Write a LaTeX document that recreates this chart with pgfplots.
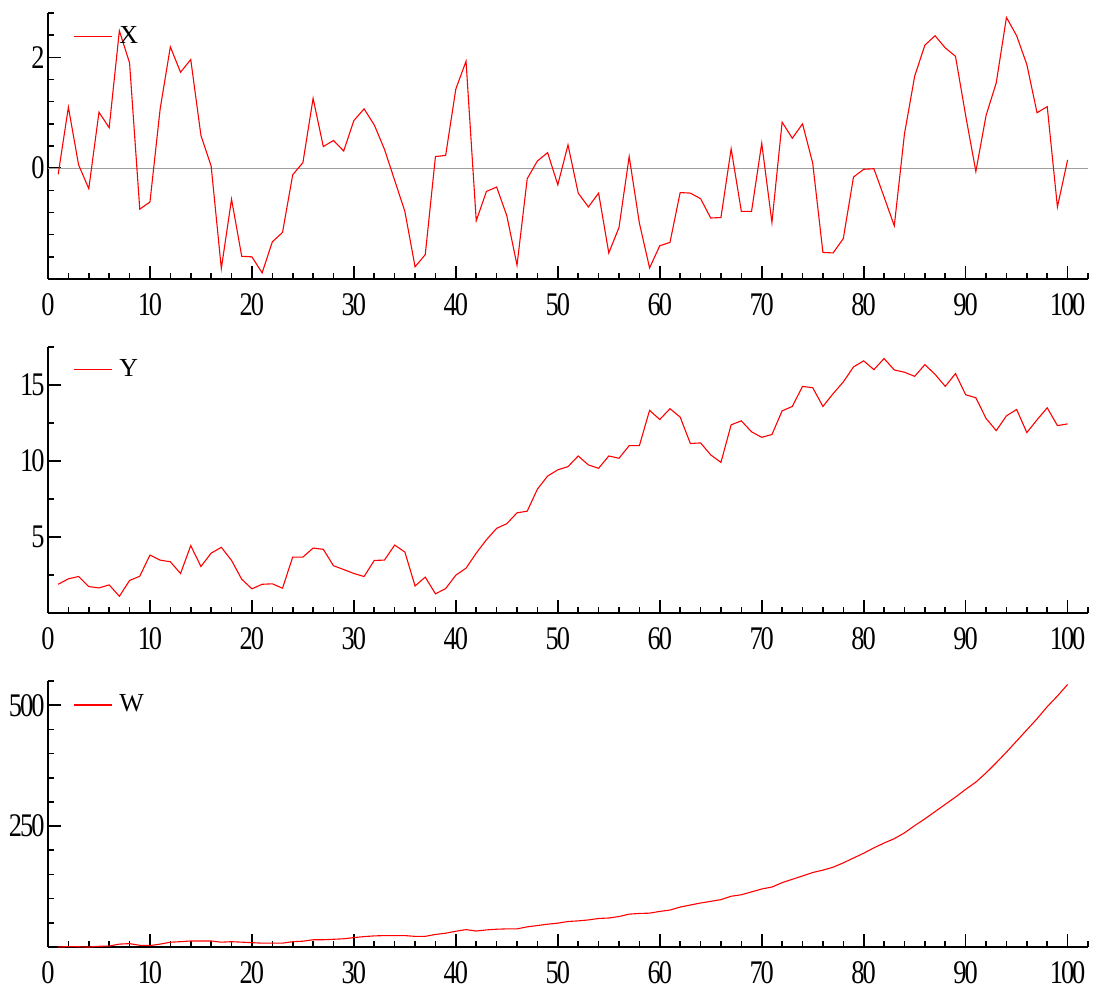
\documentclass[border=0pt]{standalone}
\usepackage{fontspec}
\setmainfont{Liberation Serif}
\newfontfamily\tickfont[FakeStretch=0.8, LetterSpace=-6]{Liberation Serif}
\usepackage{pgfplots}
\pgfplotsset{compat=1.18}
\usepackage{pgfplotstable}

\pgfplotstableread{
x X Y W
1 -0.11 1.89 0
2 1.10 2.25 1
3 0.06 2.40 0.5
4 -0.37 1.74 0
5 1.01 1.65 1.5
6 0.73 1.85 2
7 2.48 1.10 6
8 1.90 2.14 7
9 -0.74 2.42 3.5
10 -0.61 3.81 3
11 1.07 3.48 6
12 2.19 3.37 10
13 1.73 2.60 11
14 1.96 4.43 12.5
15 0.59 3.06 12.5
16 0.04 3.94 12.5
17 -1.81 4.32 10
18 -0.56 3.46 11
19 -1.59 2.22 10
20 -1.60 1.59 9
21 -1.89 1.89 8
22 -1.33 1.92 8
23 -1.16 1.63 8
24 -0.12 3.68 11
25 0.10 3.68 12
26 1.26 4.27 15
27 0.39 4.19 15
28 0.50 3.11 16
29 0.31 2.86 17
30 0.86 2.60 19.5
31 1.07 2.40 21.5
32 0.78 3.46 23
33 0.34 3.48 23.6
34 -0.22 4.47 23.6
35 -0.78 4.01 23.6
36 -1.78 1.78 22
37 -1.56 2.36 22
38 0.21 1.26 26
39 0.23 1.61 28.5
40 1.43 2.49 32.6
41 1.93 2.95 36
42 -0.95 3.94 33
43 -0.42 4.82 35.4
44 -0.34 5.57 36.8
45 -0.86 5.88 37.5
46 -1.75 6.59 37.5
47 -0.19 6.70 41.7
48 0.13 8.15 44.4
49 0.28 9.01 47.2
50 -0.30 9.42 49.3
51 0.42 9.63 52.8
52 -0.45 10.33 54
53 -0.70 9.74 56
54 -0.45 9.52 59
55 -1.53 10.33 60
56 -1.07 10.18 63
57 0.21 11.01 68
58 -0.99 11.01 69.4
59 -1.80 13.33 70
60 -1.40 12.73 73.6
61 -1.34 13.44 76.4
62 -0.44 12.89 82.6
63 -0.45 11.15 86.8
64 -0.55 11.19 91
65 -0.90 10.40 94.4
66 -0.89 9.91 98
67 0.35 12.38 105
68 -0.78 12.64 108
69 -0.78 11.92 114
70 0.45 11.56 120
71 -0.98 11.74 124
72 0.83 13.30 133
73 0.54 13.59 140
74 0.80 14.91 147
75 0.09 14.82 154
76 -1.52 13.59 159
77 -1.53 14.43 165
78 -1.27 15.20 174
79 -0.16 16.19 184
80 -0.02 16.59 194
81 -0.01 16.01 205
82 -0.52 16.74 215
83 -1.04 15.99 224
84 0.62 15.84 236
85 1.66 15.57 251
86 2.22 16.34 265
87 2.39 15.70 280
88 2.17 14.91 295
89 2.02 15.75 310
90 0.95 14.36 326
91 -0.06 14.16 341
92 0.95 12.80 360
93 1.54 12.00 381
94 2.72 12.97 403
95 2.39 13.39 426
96 1.87 11.87 449
97 1.00 12.71 472
98 1.11 13.50 497
99 -0.70 12.33 519
100 0.15 12.44 543
}\data

\pgfplotsset{
  panel/.style={
    scale only axis, width=520pt, height=133pt,
    xmin=0, xmax=102,
    axis x line=bottom, axis y line=left,
    axis line style={-, line width=1pt, black},
    tick align=inside,
    major tick length=6.5pt, minor tick length=3pt,
    tick style={black, line width=0.8pt},
    xtick={0,10,...,100}, minor xtick={2,4,...,102},
    ticklabel style={font=\tickfont\fontsize{16.5}{16.5}\selectfont},
    xticklabel style={yshift=-3.5pt},
    yticklabel style={inner xsep=1.5pt},
    /pgf/number format/assume math mode=true,
    legend style={draw=none, fill=none, inner sep=0pt, anchor=west,
      nodes={inner sep=1pt},
      font=\fontsize{13}{13}\selectfont},
    legend cell align=left,
    legend image code/.code={\draw[##1] (0pt,0pt) -- (19pt,0pt); \path (21.5pt,0pt);},
  },
  redline/.style={red, line width=0.55pt},
}

\begin{document}
\begin{tikzpicture}
\useasboundingbox (0,0) rectangle (548pt,-497pt);

\begin{axis}[panel, at={(24pt,-139.5pt)}, anchor=south west,
  ymin=-2, ymax=2.8, ytick={0,2},
  minor ytick={-1.6,-1.2,-0.8,-0.4,0.4,0.8,1.2,1.6,2.4,2.8},
  legend style={at={(rel axis cs:0.024,0.91)}}]
\addplot[gray!75, line width=0.6pt, forget plot] coordinates {(0,0) (102,0)};
\addplot[redline] table[x=x, y=X] {\data};
\addlegendentry{X}
\end{axis}

\begin{axis}[panel, at={(24pt,-306.5pt)}, anchor=south west,
  ymin=0, ymax=17.5, ytick={5,10,15},
  minor ytick={2.5,7.5,12.5,17.5},
  legend style={at={(rel axis cs:0.024,0.914)}}]
\addplot[redline] table[x=x, y=Y] {\data};
\addlegendentry{Y}
\end{axis}

\begin{axis}[panel, at={(24pt,-473.5pt)}, anchor=south west,
  ymin=0, ymax=550, ytick={250,500},
  minor ytick={50,100,150,200,300,350,400,450,550},
  legend style={at={(rel axis cs:0.024,0.91)}}]
\addplot[redline] table[x=x, y=W] {\data};
\addlegendentry{W}
\end{axis}
\end{tikzpicture}
\end{document}
